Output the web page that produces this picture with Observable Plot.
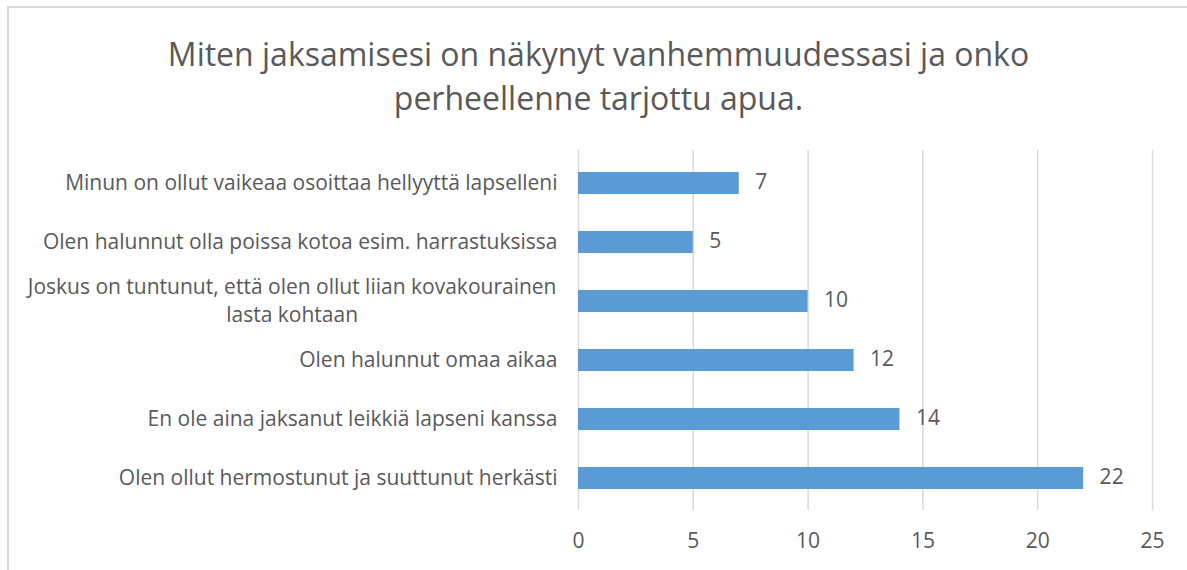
<!DOCTYPE html>
<html>
<head>
<meta charset="utf-8">
<script src="https://cdn.jsdelivr.net/npm/d3@7"></script>
<script src="https://cdn.jsdelivr.net/npm/@observablehq/plot@0.6"></script>
<style>
  html, body { margin: 0; padding: 0; background: #fff; }
  #wrap { position: relative; width: 1187px; height: 570px; overflow: hidden; font-family: "Open Sans", sans-serif; }
  #frame { position: absolute; left: 7px; top: 6px; width: 1300px; height: 700px; border-left: 2px solid #D9D9D9; border-top: 2px solid #D9D9D9; box-sizing: border-box; }
  #title { position: absolute; left: 0; top: 32px; width: 1197px; text-align: center; font-size: 32px; line-height: 44px; color: #595959; }
  #chart { position: absolute; left: 0; top: 125px; }
</style>
</head>
<body>
<div id="wrap">
  <div id="frame"></div>
  <div id="title">Miten jaksamisesi on näkynyt vanhemmuudessasi ja onko<br>perheellenne tarjottu apua.</div>
  <div id="chart"></div>
</div>
<script>
const categories = [
  "Minun on ollut vaikeaa osoittaa hellyyttä lapselleni",
  "Olen halunnut olla poissa kotoa esim. harrastuksissa",
  "Joskus on tuntunut, että olen ollut liian kovakourainen\nlasta kohtaan",
  "Olen halunnut omaa aikaa",
  "En ole aina jaksanut leikkiä lapseni kanssa",
  "Olen ollut hermostunut ja suuttunut herkästi"
];
const values = [7, 5, 10, 12, 14, 22];
const xTicks = [0, 5, 10, 15, 20, 25];

const data = categories.map((c, i) => ({category: c, value: values[i]}));

const textColor = "#595959";
const fs = 21;
const plot = Plot.plot({
  width: 1187,
  height: 445,
  marginTop: 25,
  marginBottom: 60,
  marginLeft: 578,
  marginRight: 35,
  style: {fontFamily: "Open Sans, sans-serif", fontSize: fs + "px", color: textColor, background: "transparent"},
  x: {domain: [0, 25], ticks: xTicks, label: null},
  y: {domain: categories, paddingInner: 0.633, paddingOuter: 0.317, label: null},
  marks: [
    Plot.gridX(xTicks, {stroke: "#D9D9D9", strokeOpacity: 1, strokeWidth: 1.5}),
    Plot.barX(data, {x: "value", y: "category", fill: "#5B9BD5"}),
    Plot.text(data, {x: "value", y: "category", text: d => String(d.value), textAnchor: "start", dx: 16, dy: -1, fill: textColor, fontSize: fs}),
    Plot.axisX({ticks: xTicks, tickSize: 0, tickPadding: 23, fontSize: fs, fill: textColor}),
    Plot.axisY({tickSize: 0, tickPadding: 21, dy: -2, fontSize: fs, fill: textColor, lineHeight: 1.33})
  ]
});
document.getElementById("chart").appendChild(plot);

// center multi-line tick labels (like the original wrapped label)
plot.querySelectorAll("[aria-label='y-axis tick label'] text").forEach(t => {
  const tspans = t.querySelectorAll("tspan");
  if (tspans.length > 1) {
    const w = t.getBBox().width;
    t.setAttribute("text-anchor", "middle");
    const cur = parseFloat(t.getAttribute("x") || 0);
    t.setAttribute("x", cur - w / 2);
    tspans.forEach(s => { if (s.hasAttribute("x")) s.setAttribute("x", cur - w / 2); });
  }
});
</script>
</body>
</html>
